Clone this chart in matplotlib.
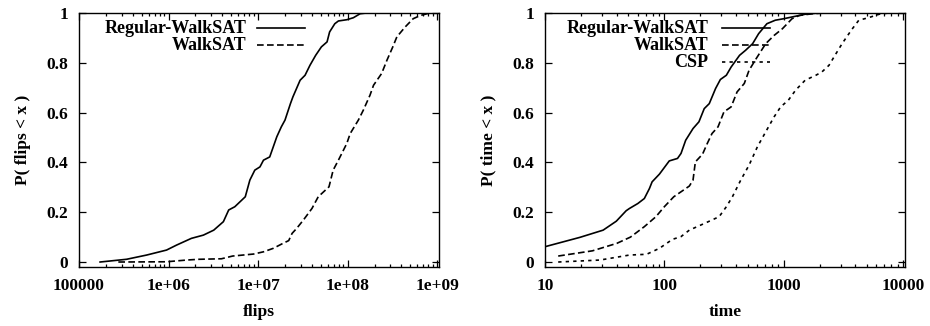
import matplotlib
matplotlib.use("Agg")
import matplotlib.pyplot as plt
from matplotlib.ticker import LogLocator, FixedLocator, NullFormatter

plt.rcParams['font.family'] = ['Liberation Serif', 'DejaVu Serif']
plt.rcParams['font.weight'] = 'bold'

# left panel: flips
flips_reg_x = [1.72e5, 3.4e5, 5.7e5, 9.5e5, 1.23e6, 1.8e6, 2.45e6, 3.2e6, 4.1e6, 4.7e6,
               5.5e6, 7.2e6, 8.1e6, 9.2e6, 1.05e7, 1.15e7, 1.35e7, 1.62e7, 1.82e7, 2.0e7,
               2.3e7, 2.45e7, 2.95e7, 3.35e7, 3.8e7, 4.4e7, 5.1e7, 5.9e7, 6.3e7, 7.2e7,
               7.9e7, 9.8e7, 1.16e8, 1.38e8, 1.62e8, 1.0e9]
flips_reg_y = [0.0, 0.011, 0.028, 0.048, 0.068, 0.095, 0.108, 0.128, 0.162, 0.209,
               0.222, 0.262, 0.329, 0.369, 0.382, 0.409, 0.422, 0.503, 0.543, 0.57,
               0.636, 0.663, 0.73, 0.75, 0.79, 0.83, 0.864, 0.884, 0.924, 0.957,
               0.968, 0.973, 0.981, 0.997, 1.0, 1.0]
flips_walk_x = [2.75e5, 9.5e5, 1.6e6, 2.2e6, 3.9e6, 5.2e6, 8.9e6, 1.15e7, 1.48e7, 1.9e7,
                2.2e7, 2.4e7, 2.7e7, 3.2e7, 4.0e7, 4.7e7, 6.2e7, 6.9e7, 7.9e7, 9.8e7,
                1.07e8, 1.32e8, 1.5e8, 1.78e8, 1.95e8, 2.4e8, 2.75e8, 3.2e8, 3.55e8, 4.4e8,
                5.4e8, 6.5e8, 8.3e8, 1.0e9]
flips_walk_y = [0.0, 0.001, 0.008, 0.011, 0.013, 0.024, 0.032, 0.041, 0.055, 0.075,
                0.086, 0.115, 0.135, 0.168, 0.215, 0.262, 0.302, 0.369, 0.409, 0.476,
                0.516, 0.57, 0.61, 0.67, 0.71, 0.757, 0.81, 0.864, 0.904, 0.944,
                0.977, 0.99, 1.0, 1.0]

# right panel: time
time_reg_x = [10, 19.6, 30.7, 39.6, 47.9, 51, 60, 68, 75, 79, 91, 110, 129, 138, 151,
              174, 195, 216, 238, 269, 295, 331, 363, 427, 479, 550, 617, 724, 851, 1000,
              1175, 1514, 1950, 5000]
time_reg_y = [0.0615, 0.099, 0.128, 0.164, 0.206, 0.215, 0.235, 0.255, 0.295, 0.322,
              0.353, 0.406, 0.416, 0.436, 0.489, 0.536, 0.563, 0.616, 0.636, 0.697,
              0.733, 0.75, 0.783, 0.83, 0.85, 0.877, 0.917, 0.957, 0.971, 0.977,
              0.984, 0.995, 1.0, 1.0]
time_walk_x = [12.9, 25, 40, 52, 68, 85, 100, 120, 138, 162, 174, 182, 209, 229, 251,
               282, 316, 363, 407, 468, 513, 589, 708, 832, 977, 1072, 1175, 1349, 1738,
               2239, 9100]
time_walk_y = [0.024, 0.045, 0.075, 0.10, 0.142, 0.182, 0.222, 0.262, 0.282, 0.305,
               0.329, 0.402, 0.433, 0.476, 0.516, 0.543, 0.603, 0.623, 0.683, 0.717,
               0.77, 0.817, 0.877, 0.91, 0.937, 0.957, 0.977, 0.99, 0.997, 1.0, 1.0]
time_csp_x = [12.9, 29, 51, 71, 91, 117, 138, 162, 224, 288, 331, 372, 437, 513, 603,
              708, 832, 944, 1096, 1259, 1514, 1862, 2089, 2399, 2692, 3090, 3715, 4266,
              5129, 6310, 7586, 9800]
time_csp_y = [0.0, 0.008, 0.028, 0.031, 0.055, 0.091, 0.102, 0.128, 0.158, 0.182,
              0.222, 0.262, 0.329, 0.389, 0.463, 0.523, 0.583, 0.623, 0.65, 0.69,
              0.73, 0.75, 0.763, 0.79, 0.83, 0.877, 0.933, 0.971, 0.981, 0.995,
              1.0, 1.0]

y_ticks = [0, 0.2, 0.4, 0.6, 0.8, 1]
y_tick_labels = ['0', '0.2', '0.4', '0.6', '0.8', '1']
flips_ticks = [1e5, 1e6, 1e7, 1e8, 1e9]
flips_tick_labels = ['100000', '1e+06', '1e+07', '1e+08', '1e+09']
time_ticks = [10, 100, 1000, 10000]
time_tick_labels = ['10', '100', '1000', '10000']

solid = '-'
dashed = (0, (4, 2))
dotted = (0, (2, 2.5))

fig = plt.figure(figsize=(9.3, 3.26), dpi=100)
ax1 = fig.add_axes([79 / 930, 59 / 326, 360 / 930, 254 / 326])
ax2 = fig.add_axes([545 / 930, 59 / 326, 360 / 930, 254 / 326])


def style_axis(ax, xticks, xlabels, xlim, xlabel, ylabel):
    ax.set_xscale('log')
    ax.set_xlim(*xlim)
    ax.set_ylim(-0.02, 1.0)
    ax.xaxis.set_major_locator(FixedLocator(xticks))
    ax.set_xticklabels(xlabels)
    ax.xaxis.set_minor_locator(LogLocator(base=10, subs=range(2, 10)))
    ax.xaxis.set_minor_formatter(NullFormatter())
    ax.set_yticks(y_ticks)
    ax.set_yticklabels(y_tick_labels)
    ax.tick_params(which='both', direction='in', top=True, right=True,
                   labelsize=12.5, width=0.9, color='black')
    ax.tick_params(which='major', length=5)
    ax.tick_params(which='minor', length=2.5)
    ax.tick_params(axis='x', pad=8)
    ax.tick_params(axis='y', pad=8)
    for sp in ax.spines.values():
        sp.set_linewidth(1.0)
    ax.set_xlabel(xlabel, fontsize=12.5, fontweight='bold', labelpad=7)
    ax.set_ylabel(ylabel, fontsize=12.5, fontweight='bold', labelpad=11)


def key(ax, rows):
    # gnuplot style key: right aligned text, then a sample line
    for i, (label, ls, text_x, l0, l1) in enumerate(rows):
        y = 0.94 - i * 0.067
        ax.text(text_x, y, label, transform=ax.transAxes, ha='right', va='center',
                fontsize=13, fontweight='bold')
        ax.plot([l0, l1], [y, y], transform=ax.transAxes, color='black',
                linestyle=ls, linewidth=1.2)


ax1.plot(flips_reg_x, flips_reg_y, color='black', linestyle=solid, linewidth=1.2)
ax1.plot(flips_walk_x, flips_walk_y, color='black', linestyle=dashed, linewidth=1.2)
style_axis(ax1, flips_ticks, flips_tick_labels, (1e5, 1.05e9), 'flips', 'P( flips < x )')
key(ax1, [('Regular-WalkSAT', solid, 0.466, 0.494, 0.627),
          ('WalkSAT', dashed, 0.466, 0.494, 0.627)])

ax2.plot(time_reg_x, time_reg_y, color='black', linestyle=solid, linewidth=1.2)
ax2.plot(time_walk_x, time_walk_y, color='black', linestyle=dashed, linewidth=1.2)
ax2.plot(time_csp_x, time_csp_y, color='black', linestyle=dotted, linewidth=1.2)
style_axis(ax2, time_ticks, time_tick_labels, (10, 10400), 'time', 'P( time < x )')
key(ax2, [('Regular-WalkSAT', solid, 0.453, 0.492, 0.625),
          ('WalkSAT', dashed, 0.453, 0.492, 0.625),
          ('CSP', dotted, 0.453, 0.492, 0.625)])

fig.savefig('out.png', dpi=100)
